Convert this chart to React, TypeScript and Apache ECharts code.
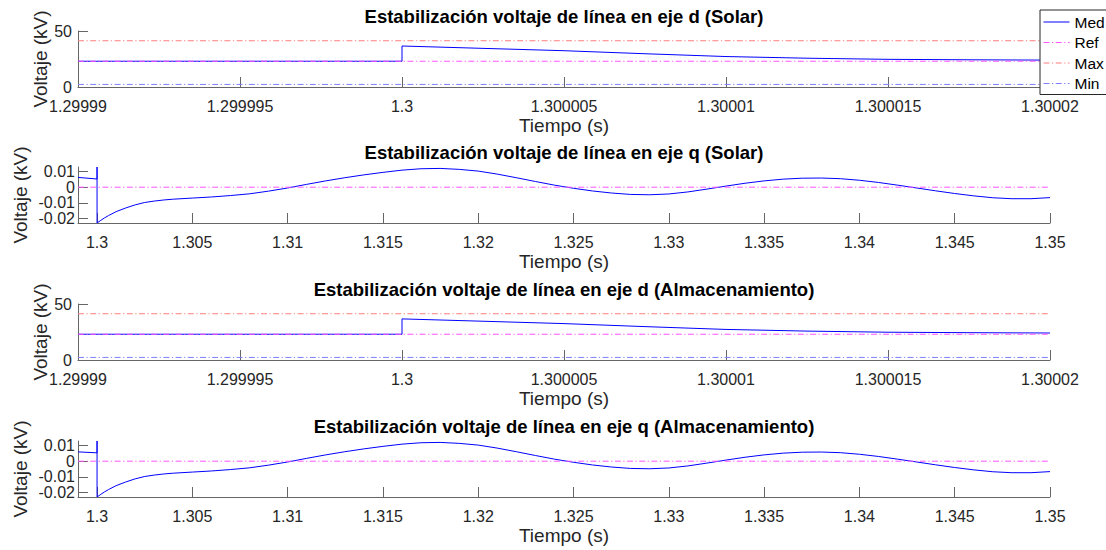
import React, { useEffect, useRef } from 'react';
import * as echarts from 'echarts';

const FONT = '"Liberation Sans", Arial, Helvetica, sans-serif';

// ---- titles ----
const plotTitles = [
  'Estabilización voltaje de línea en eje d (Solar)',
  'Estabilización voltaje de línea en eje q (Solar)',
  'Estabilización voltaje de línea en eje d (Almacenamiento)',
  'Estabilización voltaje de línea en eje q (Almacenamiento)',
];
const legendNames = ['Med', 'Ref', 'Max', 'Min'];

// ---- d-axis plots (kV) ----
const dTimeRange = [1.29999, 1.30002];
const dVoltRange = [0, 50];
const dTimeTicks = [1.29999, 1.299995, 1.3, 1.300005, 1.30001, 1.300015, 1.30002];
const dVoltTicks = [0, 50];
const dTime = [1.29999, 1.3, 1.3, 1.3000025, 1.300005, 1.3000075, 1.30001, 1.3000125, 1.300015, 1.3000175, 1.30002];
const dSolarMed = [23.0, 23.0, 36.6, 34.5, 32.4, 29.7, 27.2, 25.7, 24.7, 24.3, 24.0];
const dAlmMed = [23.0, 23.0, 36.7, 34.6, 32.5, 29.8, 27.3, 25.8, 24.8, 24.4, 24.1];
// Ref, Max, Min levels
const dSolarLevels = [23.0, 41.3, 2.3];
const dAlmLevels = [23.0, 41.3, 2.3];

// ---- q-axis plots (kV) ----
const qTimeRange = [1.299, 1.35];
const qVoltRange = [-0.0227, 0.0128];
const qTimeTicks = [1.3, 1.305, 1.31, 1.315, 1.32, 1.325, 1.33, 1.335, 1.34, 1.345, 1.35];
const qVoltTicks = [-0.02, -0.01, 0, 0.01];
// labels split over two stacked axes so none is dropped for overlap
const qVoltLabelsA = [-0.01, 0.01];
const qVoltLabelsB = [-0.02, 0];
const qTime = [
  1.299, 1.3, 1.3, 1.3, 1.3002, 1.3004, 1.3006, 1.301, 1.3015, 1.302, 1.3025, 1.303, 1.3035, 1.304,
  1.305, 1.306, 1.307, 1.308, 1.309, 1.31, 1.311, 1.312, 1.313, 1.314, 1.315, 1.316, 1.317, 1.318,
  1.319, 1.32, 1.321, 1.322, 1.323, 1.324, 1.325, 1.326, 1.327, 1.328, 1.329, 1.33, 1.331, 1.332,
  1.333, 1.334, 1.335, 1.336, 1.337, 1.338, 1.339, 1.34, 1.341, 1.342, 1.343, 1.344, 1.345, 1.346,
  1.347, 1.348, 1.349, 1.35,
];
const qSolarMed = [
  0.0062, 0.0052, 0.0128, -0.0227, -0.021, -0.0194, -0.018, -0.0155, -0.0132, -0.0112, -0.0097, -0.0088, -0.0081, -0.0076,
  -0.0069, -0.0062, -0.0053, -0.0042, -0.0025, -0.0005, 0.0018, 0.004, 0.006, 0.0078, 0.0094, 0.0108, 0.0117, 0.0119,
  0.0113, 0.0102, 0.0083, 0.006, 0.0036, 0.0013, -0.0007, -0.0024, -0.0037, -0.0046, -0.0048, -0.0043, -0.003, -0.0012,
  0.0007, 0.0025, 0.004, 0.0051, 0.0057, 0.0058, 0.0054, 0.0044, 0.003, 0.0013, -0.0005, -0.0023, -0.004, -0.0055,
  -0.0067, -0.0073, -0.0073, -0.0066,
];
const qAlmMed = [
  0.0059, 0.0053, 0.0128, -0.0227, -0.021, -0.0194, -0.018, -0.0155, -0.0132, -0.0112, -0.0097, -0.0088, -0.0081, -0.0076,
  -0.0069, -0.0062, -0.0053, -0.0042, -0.0025, -0.0005, 0.0018, 0.004, 0.006, 0.0078, 0.0094, 0.0108, 0.0117, 0.0119,
  0.0113, 0.0102, 0.0083, 0.006, 0.0036, 0.0013, -0.0007, -0.0024, -0.0037, -0.0046, -0.0048, -0.0043, -0.003, -0.0012,
  0.0007, 0.0025, 0.004, 0.0051, 0.0057, 0.0058, 0.0054, 0.0044, 0.003, 0.0013, -0.0005, -0.0023, -0.004, -0.0055,
  -0.0067, -0.0073, -0.0073, -0.0066,
];
const qRefLevel = [0];

// ---- layout ----
const GRID_LEFT = 78;
const GRID_WIDTH = 972;
const GRID_HEIGHT = 56;
const gridTops = [31, 167, 304, 441];
const yNameGaps = [28, 48, 28, 48];
const yLabelMargins = [6, 3, 6, 3];

const AXIS_COLOR = '#666666';
const TEXT_COLOR = '#262626';
const MED_COLOR = '#0000ff';
const REF_COLOR = '#ff55ff';
const MAX_COLOR = '#ff7f7f';
const MIN_COLOR = '#7f7fff';
const DASH_DOT = [6, 2.5, 1.2, 2.5];

const fmt = (v: number) => String(parseFloat(Number(v).toFixed(7)));

function makeXAxis(gi: number, range: number[], ticks: number[]) {
  return {
    gridIndex: gi,
    type: 'value',
    min: range[0],
    max: range[1],
    axisLine: { show: true, onZero: false, lineStyle: { color: AXIS_COLOR, width: 1 } },
    axisTick: { show: true, inside: true, length: 10, customValues: ticks, lineStyle: { color: AXIS_COLOR, width: 1 } },
    axisLabel: {
      customValues: ticks,
      formatter: fmt,
      fontSize: 16,
      color: TEXT_COLOR,
      fontFamily: FONT,
      margin: 11,
      hideOverlap: false,
    },
    splitLine: { show: false },
    name: 'Tiempo (s)',
    nameLocation: 'middle',
    nameGap: 29,
    nameMoveOverlap: false,
    nameTextStyle: { fontSize: 19, color: TEXT_COLOR, fontFamily: FONT },
  };
}

function makeYAxis(gi: number, range: number[], ticks: number[], labels: number[]) {
  return {
    gridIndex: gi,
    type: 'value',
    position: 'left',
    min: range[0],
    max: range[1],
    axisLine: { show: true, onZero: false, lineStyle: { color: AXIS_COLOR, width: 1 } },
    axisTick: { show: true, inside: true, length: 10, customValues: ticks, lineStyle: { color: AXIS_COLOR, width: 1 } },
    axisLabel: {
      customValues: labels,
      formatter: fmt,
      fontSize: 16,
      color: TEXT_COLOR,
      fontFamily: FONT,
      margin: yLabelMargins[gi],
      hideOverlap: false,
    },
    splitLine: { show: false },
    name: 'Voltaje (kV)',
    nameLocation: 'middle',
    nameGap: yNameGaps[gi],
    nameMoveOverlap: false,
    nameTextStyle: { fontSize: 19, color: TEXT_COLOR, fontFamily: FONT },
  };
}

function makeYLabelAxis(gi: number, range: number[], labels: number[]) {
  return {
    gridIndex: gi,
    type: 'value',
    position: 'left',
    offset: 0,
    min: range[0],
    max: range[1],
    axisLine: { show: false, onZero: false },
    axisTick: { show: false },
    axisLabel: {
      customValues: labels,
      formatter: fmt,
      fontSize: 16,
      color: TEXT_COLOR,
      fontFamily: FONT,
      margin: yLabelMargins[gi],
      hideOverlap: false,
    },
    splitLine: { show: false },
  };
}

function medSeries(gi: number, times: number[], vals: number[]) {
  return {
    type: 'line',
    name: 'Med',
    xAxisIndex: gi,
    yAxisIndex: gi,
    data: times.map((t, i) => [t, vals[i]]),
    symbol: 'none',
    showSymbol: false,
    clip: true,
    lineStyle: { color: MED_COLOR, width: 1 },
    itemStyle: { color: MED_COLOR },
  };
}

function levelSeries(gi: number, name: string, range: number[], level: number, color: string) {
  return {
    type: 'line',
    name,
    xAxisIndex: gi,
    yAxisIndex: gi,
    data: [
      [range[0], level],
      [range[1], level],
    ],
    symbol: 'none',
    showSymbol: false,
    clip: true,
    lineStyle: { color, width: 1, type: DASH_DOT },
    itemStyle: { color },
  };
}

export default function App() {
  const ref = useRef<HTMLDivElement>(null);

  useEffect(() => {
    if (!ref.current) return;
    const chart = echarts.init(ref.current, undefined, { renderer: 'svg' });

    const grids = gridTops.map((top) => ({ left: GRID_LEFT, top, width: GRID_WIDTH, height: GRID_HEIGHT }));

    const xAxes = [
      makeXAxis(0, dTimeRange, dTimeTicks),
      makeXAxis(1, qTimeRange, qTimeTicks),
      makeXAxis(2, dTimeRange, dTimeTicks),
      makeXAxis(3, qTimeRange, qTimeTicks),
    ];
    const yAxes = [
      makeYAxis(0, dVoltRange, dVoltTicks, dVoltTicks),
      makeYAxis(1, qVoltRange, qVoltTicks, qVoltLabelsA),
      makeYAxis(2, dVoltRange, dVoltTicks, dVoltTicks),
      makeYAxis(3, qVoltRange, qVoltTicks, qVoltLabelsA),
      makeYLabelAxis(1, qVoltRange, qVoltLabelsB),
      makeYLabelAxis(3, qVoltRange, qVoltLabelsB),
    ];

    const series = [
      medSeries(0, dTime, dSolarMed),
      levelSeries(0, 'Ref', dTimeRange, dSolarLevels[0], REF_COLOR),
      levelSeries(0, 'Max', dTimeRange, dSolarLevels[1], MAX_COLOR),
      levelSeries(0, 'Min', dTimeRange, dSolarLevels[2], MIN_COLOR),

      medSeries(1, qTime, qSolarMed),
      levelSeries(1, 'Ref', qTimeRange, qRefLevel[0], REF_COLOR),

      medSeries(2, dTime, dAlmMed),
      levelSeries(2, 'Ref', dTimeRange, dAlmLevels[0], REF_COLOR),
      levelSeries(2, 'Max', dTimeRange, dAlmLevels[1], MAX_COLOR),
      levelSeries(2, 'Min', dTimeRange, dAlmLevels[2], MIN_COLOR),

      medSeries(3, qTime, qAlmMed),
      levelSeries(3, 'Ref', qTimeRange, qRefLevel[0], REF_COLOR),
    ];

    const graphic = plotTitles.map((t, i) => ({
      type: 'text',
      x: GRID_LEFT + GRID_WIDTH / 2,
      y: gridTops[i] - 14.5,
      silent: true,
      style: {
        text: t,
        fill: '#000000',
        font: `bold 18.5px ${FONT}`,
        textAlign: 'center',
        textVerticalAlign: 'middle',
        align: 'center',
        verticalAlign: 'middle',
      },
    }));

    chart.setOption({
      animation: false,
      backgroundColor: '#ffffff',
      grid: grids,
      xAxis: xAxes,
      yAxis: yAxes,
      series,
      graphic,
      legend: {
        data: legendNames,
        orient: 'vertical',
        left: 1040,
        top: 10,
        itemWidth: 26,
        itemHeight: 14,
        itemGap: 4.5,
        padding: [4, 2, 3, 3],
        backgroundColor: '#ffffff',
        borderColor: '#262626',
        borderWidth: 1,
        borderRadius: 0,
        selectedMode: false,
        itemStyle: { opacity: 0 },
        lineStyle: { width: 1 },
        textStyle: { fontSize: 15.5, color: '#000000', fontFamily: FONT },
      },
    });

    return () => chart.dispose();
  }, []);

  return (
    <div
      ref={ref}
      style={{ position: 'fixed', left: 0, top: 0, width: 1106, height: 550, background: '#fff' }}
    />
  );
}
